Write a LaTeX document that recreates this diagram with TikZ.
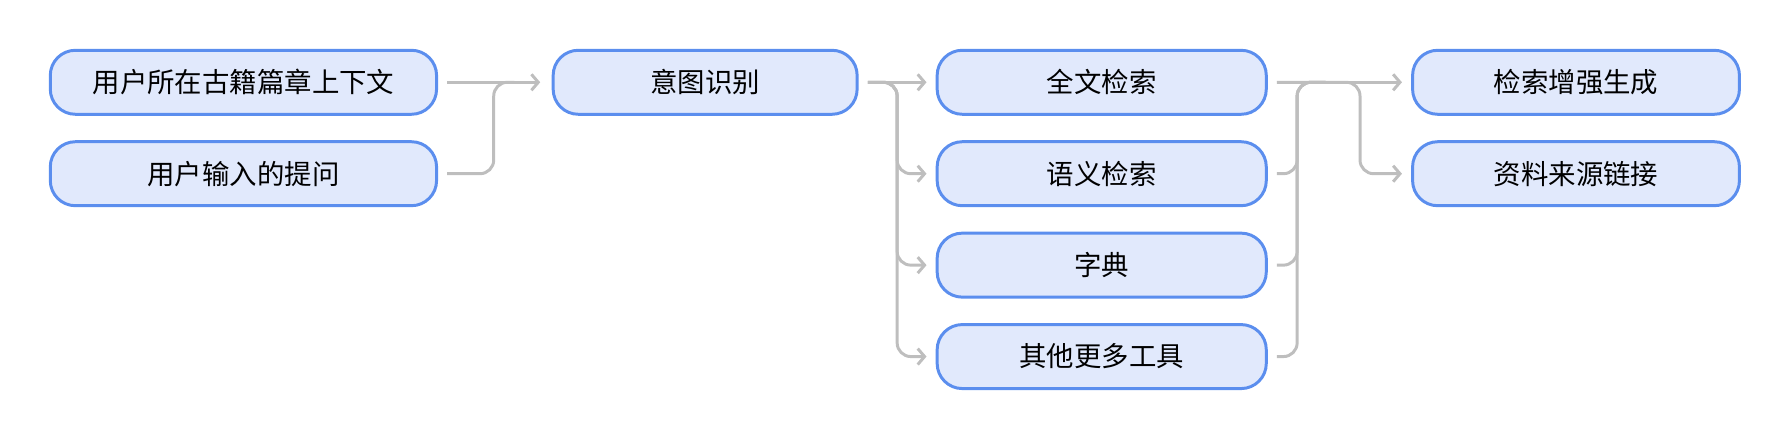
\documentclass[tikz,border=0pt]{standalone}
\usepackage{fontspec}
\setmainfont{Noto Sans CJK SC}
\usetikzlibrary{arrows.meta}
\definecolor{bx}{HTML}{E1E9FC}
\definecolor{bd}{HTML}{5B8EEE}
\definecolor{ln}{HTML}{BEBEBE}
\begin{document}
\begin{tikzpicture}[x=1pt,y=-1pt,
 box/.style={draw=bd,fill=bx,line width=2.6pt,rounded corners=22pt,minimum height=56pt,inner sep=0pt,font=\fontsize{24}{28}\selectfont},
 con/.style={draw=ln,line width=2.6pt,rounded corners=12pt,-{Straight Barb[length=6pt,width=14pt]}}]
\useasboundingbox (0,0) rectangle (1568,382);
\node[box,minimum width=338pt] (n1) at (213,72) {用户所在古籍篇章上下文};
\node[box,minimum width=338pt] (n2) at (213,152) {用户输入的提问};
\node[box,minimum width=266pt] (n3) at (617,72) {意图识别};
\node[box,minimum width=288pt] (n4) at (964,72) {全文检索};
\node[box,minimum width=288pt] (n5) at (964,152) {语义检索};
\node[box,minimum width=288pt] (n6) at (964,232) {字典};
\node[box,minimum width=288pt] (n7) at (964,312) {其他更多工具};
\node[box,minimum width=286pt] (n8) at (1379,72) {检索增强生成};
\node[box,minimum width=286pt] (n9) at (1379,152) {资料来源链接};
\coordinate (j1) at (450,72);
\coordinate (j2) at (1160,72);
\draw[con] ([xshift=8pt]n1.east) -- ([xshift=-10pt]n3.west);
\draw[con,-] ([xshift=8pt]n2.east) -| (432,72) -- (j1);
\draw[con] ([xshift=8pt]n3.east) -- ([xshift=-8pt]n4.west);
\foreach \t in {n5,n6,n7}
 \draw[con] ([xshift=8pt]n3.east) -- (785,72) |- ([xshift=-8pt]\t.west);
\draw[con,-] ([xshift=8pt]n4.east) -- (j2);
\foreach \s in {n5,n6,n7}
 \draw[con,-] ([xshift=8pt]\s.east) -| (1135,72) -- (j2);
\draw[con] ([xshift=8pt]n4.east) -- ([xshift=-8pt]n8.west);
\draw[con] ([xshift=8pt]n4.east) -- (1190,72) |- ([xshift=-8pt]n9.west);
\end{tikzpicture}
\end{document}
